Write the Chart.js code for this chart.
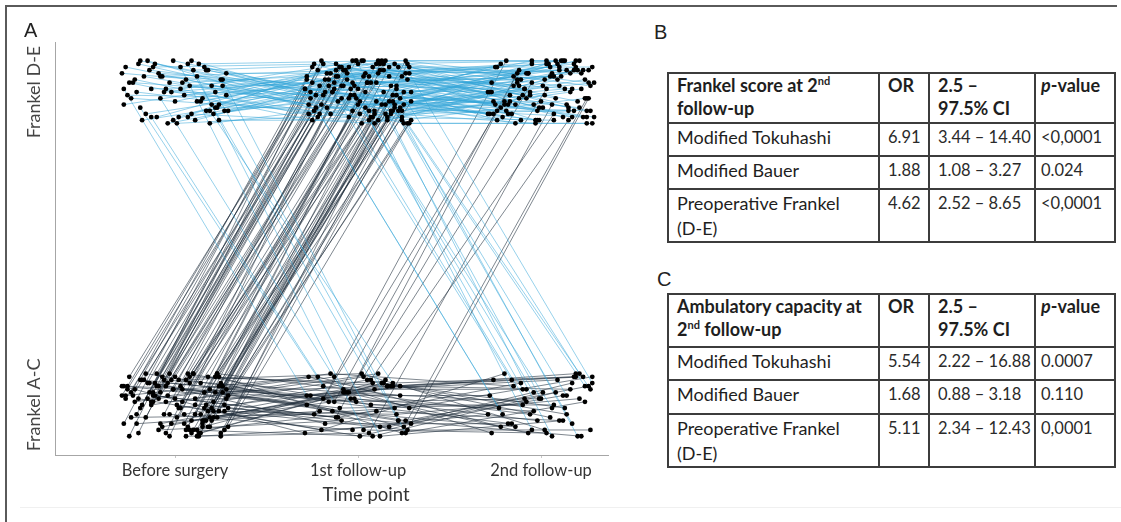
<!DOCTYPE html>
<html>
<head>
<meta charset="utf-8">
<script src="https://cdn.jsdelivr.net/npm/chart.js@4.4.1/dist/chart.umd.min.js"></script>
<style>
  html, body { margin: 0; padding: 0; background: #fff; }
  #page { position: relative; width: 1121px; height: 522px; overflow: hidden; background: #fff; }
  #frame { position: absolute; left: 5px; top: 5px; width: 1110px; height: 530px;
           border-top: 2px solid #5a5a5a; border-left: 2px solid #5a5a5a; }
  #rule  { position: absolute; left: 20px; top: 507px; width: 1101px; height: 1px; background: #f0f0f0; }
  .panel { position: absolute; font-family: "Liberation Sans", Arial, sans-serif;
           font-size: 20px; line-height: 20px; color: #222; }
  #xTitle { position: absolute; left: 266px; top: 484px; width: 200px; text-align: center;
            font-family: Lato, sans-serif; font-size: 18.5px; line-height: 20px; color: #333; }
  canvas { position: absolute; left: 0; top: 0; }
  table { position: absolute; left: 667px; width: 447px; border-collapse: collapse;
          table-layout: fixed; font-family: Lato, sans-serif; font-size: 18px; color: #1e1e1e; }
  td, th { border: 2px solid #3c3c3c; padding: 1px 0 0 8px; vertical-align: top;
           line-height: 25px; text-align: left; font-weight: normal; overflow: hidden; white-space: nowrap; }
  th { font-weight: bold; line-height: 23px; padding-top: 0; }
  td.n { font-size: 16.5px; color: #2a2a2a; }
  td.p, th.p { padding-left: 5px; }
  sup { font-size: 11px; line-height: 0; vertical-align: 7px; }
  #tabB { top: 72px; }
  #tabC { top: 293px; }
</style>
</head>
<body>
<div id="page">
  <div id="frame"></div>
  <div id="rule"></div>
  <canvas id="chartA" width="625" height="522"></canvas>
  <div class="panel" style="left:24px;top:20px">A</div>
  <div class="panel" style="left:654px;top:22px">B</div>
  <div class="panel" style="left:657px;top:269px">C</div>
  <div id="xTitle">Time point</div>
  <table id="tabB"></table>
  <table id="tabC"></table>
</div>

<script>
// ── AXIS LABELS ──────────────────────────────────
const timeLabels  = ["Before surgery", "1st follow-up", "2nd follow-up"];
const timeValues  = [1, 2, 3];
const stateLabels = ["Frankel A-C", "Frankel D-E"];
const stateValues = { A: 1, D: 2 };   // A = Frankel A-C, D = Frankel D-E

// ── PATIENT PATHS ────────────────────────────────
// before / 1st / 2nd follow-up, "-" = no value at that time point
const pathCodes  = ["DDD", "DDA", "DD-", "DAA", "DAD", "DA-", "ADD", "ADA", "AD-", "AAA", "AAD", "AA-"];
const pathCounts = [52, 9, 4, 5, 3, 2, 60, 8, 10, 38, 8, 11];

// ── JITTER (hundredths of a unit) ────────────────
// horizontal jitter is kept per patient, vertical jitter per time point
const patientDx = [
  -27, 12, -8, 24, 3, -19, 17, -3, 28, -14,   7, -22, 20, -11, 1, 26, -29, 9, -6, 15,
  -17, 22, -1, 11, -25, 5, 18, -12, 29, -5,   14, -20, 2, 25, -9, -28, 19, 8, -15, 21,
  -2, 10, -24, 27, -7, 16, -18, 4, 23, -13,   13, -26, 6, -10, 20, -4, 28, -21, 0, 17,
  -16, 9, 24, -23, -1, 12, -28, 19, 3, -8,    26, -13, 7, 22, -19, -5, 14, -27, 10, 25,
  -11, 2, 18, -22, 29, -3, 6, -16, 21, -9,    15, -25, 0, 27, -14, 11, -6, 23, -20, 4,
  -29, 17, 8, -12, 24, -2, 19, -24, 13, -7,   1, 26, -18, 9, -10, 20, -26, 5, 28, -15,
  12, -4, 22, -21, 16, -8, 3, 25, -13, 7,     -17, 18, -1, 10, -28, 27, -5, 14, -23, 21,
  -9, 6, 24, -19, 0, 15, -12, 29, -3, 11,     -25, 19, 4, -14, 23, -6, 8, -27, 17, -10,
  26, -2, 13, -20, 2, 21, -16, 9, -29, 16,    -7, 24, -11, 5, 28, -22, 12, -4, 19, -18,
  1, 14, -26, 22, -8, 7, 27, -15, 10, -1,     18, -24, 3, 25, -12, 15, -19, 6, -5, 20,
  -28, 11, -9, 23, -3, 16, -21, 8, 29, -13
];
const beforeDy = [
  8, -3, 5, -9, 1, 10, -6, 3, -1, 7,          -8, 4, -4, 9, -10, 2, 6, -7, 0, -2,
  5, -5, 10, -9, 3, -1, 7, 8, -6, 1,          -3, 9, -8, 4, 6, -4, -10, 2, 10, -7,
  0, 7, -2, -6, 5, 8, -9, 3, -5, 1,           9, -1, 4, -8, 2, -10, 6, 0, -3, 7,
  -7, 10, -4, 3, -9, 5, 1, -6, 8, -2,         4, -8, 9, 0, -5, 6, -3, 2, 10, -9,
  7, -1, -7, 5, 3, -10, 8, -4, 1, 6,          -6, 9, 2, -8, 4, 0, -3, 10, -9, 5,
  3, -5, 7, 1, -2, 8, -7, 4, -10, 9,          -4, 6, 0, -9, 10, -1, 5, -6, 2, 7,
  -8, 3, 9, -3, -5, 4, 6, -10, 1, -7,         8, -2, 5, 10, -6, 0, -9, 7, 3, -4,
  2, -8, 6, -1, 9, -5, 4, -7, 10, -3,         -10, 5, 1, 7, -4, 8, -8, 3, 0, 6,
  4, -6, -9, 2, 8, -2, 10, -5, 6, -1,         -7, 9, 3, -3, 5, 1, -10, 7, -4, 8,
  0, -9, 6, 4, -6, 10, -2, 2, -8, 5,          9, -4, -1, 7, 3, -7, 8, -10, 1, -5,
  6, 2, -8, 10, -3, 4, -6, 9, -1, 0
];
const firstDy = [
  -4, 7, 2, -9, 10, -1, 5, -6, 8, 0,          3, -8, 9, -3, -7, 6, 1, -10, 4, 10,
  -5, 8, -2, 6, -9, 3, -6, 9, 0, -8,          7, -4, 10, -10, 2, 5, -3, 8, -7, 1,
  -1, 9, -6, 4, 7, -8, 0, 6, -5, 3,           10, -2, -9, 8, -4, 1, 6, -7, 9, -3,
  2, -6, 5, -1, 10, -10, 3, 7, -8, 4,         -9, 1, 8, -5, 6, -2, 9, -7, 3, 0,
  5, -10, 2, 7, -3, 10, -6, 4, -1, 8,         -7, 3, -4, 9, 0, -9, 6, -2, 10, -5,
  1, 8, -8, 5, -6, 2, -1, 9, -4, 7,           -3, 10, 4, -7, 8, -5, 0, 3, -10, 6,
  9, -1, -6, 2, -9, 7, 5, -4, 1, -8,          6, -7, 10, -3, 4, -10, 8, 0, -5, 2,
  -2, 5, -8, 9, 1, -4, 7, -9, 3, 10,          8, -6, 0, -2, 6, 4, -10, 9, -7, -1,
  -5, 2, 7, -8, 10, -3, 1, 5, -9, 6,          4, -9, -4, 8, -1, 9, -7, 2, 6, -6,
  -10, 7, 3, -5, 5, 0, -8, 10, -2, 1,         6, -3, 9, -7, -4, 8, 2, -9, 4, -1,
  0, 10, -5, 3, -8, 6, -2, 7, -6, 9
];
const secondDy = [
  3, -8, 6, -2, 10, -6, 1, -10, 8, -4,        5, 9, -3, -9, 2, 7, -7, 4, 0, -5,
  -1, 6, -9, 10, -4, 8, -6, 2, -8, 9,         7, -3, 4, -10, 1, -7, 10, -2, 5, -5,
  -9, 2, 8, -6, 6, 0, -4, 9, -8, 3,           10, -7, -1, 5, -10, 4, 7, -3, 2, -6,
  8, null, null, null, null, -5, 3, 9, -9, 1,
  -2, 6, -7, null, null, 10, -4, 0, 7, -8,
  4, -1, 9, -5, 3, -9, 6, -7, 10, 1,          -6, 8, -3, 2, -10, 5, -1, 7, -4, 9,
  0, -8, 10, -2, 4, -6, 8, -9, 1, 6,          -5, 3, -7, 9, -1, 7, -3, 5, -10, 2,
  10, -4, 1, -8, 6, -2, 9, -6, 4, -9,         -3, 7, -5, 8, 0, 5, -8, 3, -1, 10,
  2, -10, 6, null, null, null, null, null, null, null,
  null, null, null, -7, 9, -3, 4, -9, 7, 0,
  6, -5, -1, 10, -8, 2, -6, 8, -3, 5,         -9, 1, 7, -4, 9, -7, 3, -2, 10, -6,
  4, -3, 8, -10, 5, 0, -8, 6, -5, 2,          9, -6, 1, -2, 7, -9, 10, -4, 3, null,
  null, null, null, null, null, null, null, null, null, null
];

// ── TABLE DATA ───────────────────────────────────
const predictors = ["Modified Tokuhashi", "Modified Bauer", "Preoperative Frankel<br>(D-E)"];
const orB = ["6.91", "1.88", "4.62"];
const ciB = ["3.44 – 14.40", "1.08 – 3.27", "2.52 – 8.65"];
const pB  = ["&lt;0,0001", "0.024", "&lt;0,0001"];
const orC = ["5.54", "1.68", "5.11"];
const ciC = ["2.22 – 16.88", "0.88 – 3.18", "2.34 – 12.43"];
const pC  = ["0.0007", "0.110", "0,0001"];

// ── COLOURS ──────────────────────────────────────
const BLUE = "rgba(50,165,215,0.6)";    // segment leaving Frankel D-E
const DARK = "rgba(32,46,60,0.68)";     // segment leaving Frankel A-C

// ── BUILD POINTS ─────────────────────────────────
const paths = [];
pathCodes.forEach((code, k) => {
  for (let n = 0; n < pathCounts[k]; n++) paths.push(code);
});

const dyByTime = [beforeDy, firstDy, secondDy];
const patients = paths.map((code, i) => {
  const pts = [];
  for (let t = 0; t < 3; t++) {
    const s = code[t];
    if (s === "-") break;
    pts.push({ x: timeValues[t] + patientDx[i] / 100, y: stateValues[s] + dyByTime[t][i] / 100 });
  }
  return pts;
});

const datasets = patients.map(pts => ({
  data:        pts,
  showLine:    true,
  borderColor: DARK,
  borderWidth: 0.85,
  pointRadius: 0,
  order:       1,
  segment: { borderColor: c => (c.p0.parsed.y > 1.5 ? BLUE : DARK) },
}));
datasets.push({
  data:            patients.flat(),
  showLine:        false,
  backgroundColor: "#000",
  borderWidth:     0,
  pointRadius:     2.4,
  order:           0,
});

// ── Y LABELS (rotated, centred on ticks) ─────────
const yLabelPlugin = {
  id: "yLabels",
  afterDraw(chart) {
    const { ctx, scales: { y } } = chart;
    ctx.save();
    ctx.font = "18px Lato";
    ctx.fillStyle = "#444";
    ctx.textAlign = "center";
    ctx.textBaseline = "middle";
    [stateValues.A, stateValues.D].forEach((v, i) => {
      ctx.save();
      ctx.translate(34, y.getPixelForValue(v));
      ctx.rotate(-Math.PI / 2);
      ctx.fillText(stateLabels[i], 0, 0);
      ctx.restore();
    });
    ctx.restore();
  },
};

// ── CHART ────────────────────────────────────────
new Chart(document.getElementById("chartA"), {
  type: "scatter",
  data: { datasets },
  options: {
    responsive:       false,
    animation:        false,
    devicePixelRatio: 1,
    events:           [],
    layout: { padding: { left: 0, right: 17, top: 42, bottom: 0 } },
    plugins: { legend: { display: false }, tooltip: { enabled: false } },
    scales: {
      x: {
        type: "linear",
        min:  0.344,
        max:  3.366,
        afterBuildTicks: s => { s.ticks = timeValues.map(v => ({ value: v })); },
        afterFit:        s => { s.height = 67; },
        ticks: {
          autoSkip: false,
          maxRotation: 0,
          padding: 3,
          color: "#333",
          font: { family: "Lato", size: 16.5 },
          callback: v => timeLabels[timeValues.indexOf(v)],
        },
        grid:   { drawOnChartArea: false, tickLength: 3, color: "#c8c8c8" },
        border: { color: "#a6a6a6", width: 1 },
      },
      y: {
        type: "linear",
        min:  0.84,
        max:  2.16,
        afterBuildTicks: s => { s.ticks = [{ value: stateValues.A }, { value: stateValues.D }]; },
        afterFit:        s => { s.width = 55; },
        ticks:  { display: false },
        grid:   { display: false },
        border: { color: "#a6a6a6", width: 1 },
      },
    },
  },
  plugins: [yLabelPlugin],
});

// ── TABLES ───────────────────────────────────────
function buildTable(id, header, ors, cis, ps, heights) {
  const cols = `<colgroup><col style="width:211px"><col style="width:50px">` +
               `<col style="width:106px"><col style="width:80px"></colgroup>`;
  const head = `<tr style="height:${heights[0]}px"><th>${header}</th><th>OR</th>` +
               `<th>2.5 –<br>97.5% CI</th><th class="p"><i>p</i>-value</th></tr>`;
  const body = predictors.map((name, i) =>
    `<tr style="height:${heights[i + 1]}px"><td>${name}</td><td class="n">${ors[i]}</td>` +
    `<td class="n">${cis[i]}</td><td class="n p">${ps[i]}</td></tr>`).join("");
  document.getElementById(id).innerHTML = cols + head + body;
}
buildTable("tabB", "Frankel score at 2<sup>nd</sup><br>follow-up", orB, ciB, pB, [50, 33, 33, 52]);
buildTable("tabC", "Ambulatory capacity at<br>2<sup>nd</sup> follow-up", orC, ciC, pC, [53, 33, 34, 50]);
</script>
</body>
</html>
